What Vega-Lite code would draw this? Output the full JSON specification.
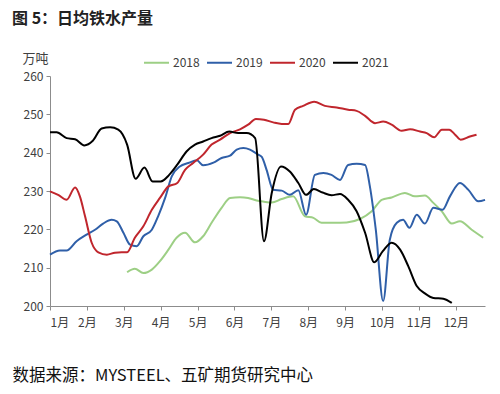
{
  "$schema": "https://vega.github.io/schema/vega-lite/v6.json",
  "width": 435,
  "height": 230,
  "autosize": {"type": "none"},
  "padding": {"left": 50, "top": 76, "right": 15, "bottom": 88},
  "background": "white",
  "title": {
    "text": "图 5：日均铁水产量",
    "anchor": "start",
    "frame": "group",
    "dx": -38,
    "dy": 9,
    "offset": 31,
    "font": "Noto Sans CJK SC",
    "fontSize": 16,
    "fontWeight": "bold",
    "color": "#222222"
  },
  "config": {
    "view": {"stroke": null},
    "font": "Noto Sans CJK SC"
  },
  "data": {
    "values": [
      {"年份": "2018", "月": 3.09, "万吨": 208.8},
      {"年份": "2018", "月": 3.30, "万吨": 209.7},
      {"年份": "2018", "月": 3.53, "万吨": 208.6},
      {"年份": "2018", "月": 3.76, "万吨": 209.5},
      {"年份": "2018", "月": 3.98, "万吨": 211.7},
      {"年份": "2018", "月": 4.21, "万吨": 214.7},
      {"年份": "2018", "月": 4.43, "万吨": 217.8},
      {"年份": "2018", "月": 4.66, "万吨": 219.1},
      {"年份": "2018", "月": 4.93, "万吨": 216.6},
      {"年份": "2018", "月": 5.15, "万吨": 218.2},
      {"年份": "2018", "月": 5.38, "万吨": 221.7},
      {"年份": "2018", "月": 5.65, "万吨": 225.6},
      {"年份": "2018", "月": 5.88, "万吨": 228.2},
      {"年份": "2018", "月": 6.15, "万吨": 228.4},
      {"年份": "2018", "月": 6.37, "万吨": 228.2},
      {"年份": "2018", "月": 6.60, "万吨": 227.5},
      {"年份": "2018", "月": 6.80, "万吨": 227.2},
      {"年份": "2018", "月": 7.01, "万吨": 227.0},
      {"年份": "2018", "月": 7.28, "万吨": 227.9},
      {"年份": "2018", "月": 7.59, "万吨": 228.6},
      {"年份": "2018", "月": 7.91, "万吨": 223.4},
      {"年份": "2018", "月": 8.14, "万吨": 223.0},
      {"年份": "2018", "月": 8.36, "万吨": 221.7},
      {"年份": "2018", "月": 8.68, "万吨": 221.7},
      {"年份": "2018", "月": 9.04, "万吨": 221.8},
      {"年份": "2018", "月": 9.40, "万吨": 222.7},
      {"年份": "2018", "月": 9.72, "万吨": 224.7},
      {"年份": "2018", "月": 9.99, "万吨": 227.7},
      {"年份": "2018", "月": 10.26, "万吨": 228.3},
      {"年份": "2018", "月": 10.62, "万吨": 229.5},
      {"年份": "2018", "月": 10.89, "万吨": 228.6},
      {"年份": "2018", "月": 11.16, "万吨": 228.8},
      {"年份": "2018", "月": 11.39, "万吨": 226.9},
      {"年份": "2018", "月": 11.62, "万吨": 224.7},
      {"年份": "2018", "月": 11.89, "万吨": 221.5},
      {"年份": "2018", "月": 12.11, "万吨": 222.1},
      {"年份": "2018", "月": 12.43, "万吨": 219.9},
      {"年份": "2018", "月": 12.74, "万吨": 217.8},

      {"年份": "2019", "月": 1.00, "万吨": 213.4},
      {"年份": "2019", "月": 1.27, "万吨": 214.5},
      {"年份": "2019", "月": 1.45, "万吨": 214.5},
      {"年份": "2019", "月": 1.72, "万吨": 216.9},
      {"年份": "2019", "月": 1.99, "万吨": 218.6},
      {"年份": "2019", "月": 2.22, "万吨": 219.9},
      {"年份": "2019", "月": 2.44, "万吨": 221.5},
      {"年份": "2019", "月": 2.67, "万吨": 222.5},
      {"年份": "2019", "月": 2.81, "万吨": 222.1},
      {"年份": "2019", "月": 2.99, "万吨": 219.1},
      {"年份": "2019", "月": 3.17, "万吨": 216.0},
      {"年份": "2019", "月": 3.35, "万吨": 215.6},
      {"年份": "2019", "月": 3.53, "万吨": 218.2},
      {"年份": "2019", "月": 3.76, "万吨": 219.9},
      {"年份": "2019", "月": 3.93, "万吨": 223.4},
      {"年份": "2019", "月": 4.12, "万吨": 228.2},
      {"年份": "2019", "月": 4.30, "万吨": 233.8},
      {"年份": "2019", "月": 4.52, "万吨": 236.4},
      {"年份": "2019", "月": 4.75, "万吨": 237.3},
      {"年份": "2019", "月": 4.98, "万吨": 238.0},
      {"年份": "2019", "月": 5.15, "万吨": 236.7},
      {"年份": "2019", "月": 5.43, "万吨": 237.4},
      {"年份": "2019", "月": 5.65, "万吨": 238.6},
      {"年份": "2019", "月": 5.88, "万吨": 239.2},
      {"年份": "2019", "月": 6.06, "万吨": 240.8},
      {"年份": "2019", "月": 6.24, "万吨": 241.2},
      {"年份": "2019", "月": 6.42, "万吨": 240.8},
      {"年份": "2019", "月": 6.64, "万吨": 239.5},
      {"年份": "2019", "月": 6.74, "万吨": 238.9},
      {"年份": "2019", "月": 6.87, "万吨": 235.5},
      {"年份": "2019", "月": 7.05, "万吨": 230.3},
      {"年份": "2019", "月": 7.28, "万吨": 230.1},
      {"年份": "2019", "月": 7.50, "万吨": 229.0},
      {"年份": "2019", "月": 7.73, "万吨": 230.2},
      {"年份": "2019", "月": 7.94, "万吨": 223.8},
      {"年份": "2019", "月": 8.18, "万吨": 234.2},
      {"年份": "2019", "月": 8.41, "万吨": 234.7},
      {"年份": "2019", "月": 8.63, "万吨": 234.2},
      {"年份": "2019", "月": 8.86, "万吨": 232.9},
      {"年份": "2019", "月": 9.08, "万吨": 236.8},
      {"年份": "2019", "月": 9.31, "万吨": 237.1},
      {"年份": "2019", "月": 9.54, "万吨": 236.8},
      {"年份": "2019", "月": 9.67, "万吨": 231.2},
      {"年份": "2019", "月": 9.83, "万吨": 219.9},
      {"年份": "2019", "月": 10.03, "万吨": 201.3},
      {"年份": "2019", "月": 10.21, "万吨": 217.3},
      {"年份": "2019", "月": 10.40, "万吨": 221.7},
      {"年份": "2019", "月": 10.57, "万吨": 222.5},
      {"年份": "2019", "月": 10.74, "万吨": 220.4},
      {"年份": "2019", "月": 10.94, "万吨": 223.8},
      {"年份": "2019", "月": 11.16, "万吨": 221.5},
      {"年份": "2019", "月": 11.39, "万吨": 225.6},
      {"年份": "2019", "月": 11.64, "万吨": 225.1},
      {"年份": "2019", "月": 11.84, "万吨": 228.6},
      {"年份": "2019", "月": 12.11, "万吨": 232.1},
      {"年份": "2019", "月": 12.34, "万吨": 230.3},
      {"年份": "2019", "月": 12.61, "万吨": 227.3},
      {"年份": "2019", "月": 12.79, "万吨": 227.7},

      {"年份": "2020", "月": 1.00, "万吨": 229.9},
      {"年份": "2020", "月": 1.22, "万吨": 229.0},
      {"年份": "2020", "月": 1.45, "万吨": 227.7},
      {"年份": "2020", "月": 1.68, "万吨": 230.9},
      {"年份": "2020", "月": 1.81, "万吨": 228.6},
      {"年份": "2020", "月": 1.95, "万吨": 223.4},
      {"年份": "2020", "月": 2.13, "万吨": 216.5},
      {"年份": "2020", "月": 2.31, "万吨": 214.0},
      {"年份": "2020", "月": 2.54, "万吨": 213.4},
      {"年份": "2020", "月": 2.76, "万吨": 213.9},
      {"年份": "2020", "月": 2.94, "万吨": 214.0},
      {"年份": "2020", "月": 3.09, "万吨": 214.0},
      {"年份": "2020", "月": 3.30, "万吨": 217.8},
      {"年份": "2020", "月": 3.53, "万吨": 220.8},
      {"年份": "2020", "月": 3.76, "万吨": 225.1},
      {"年份": "2020", "月": 3.98, "万吨": 228.2},
      {"年份": "2020", "月": 4.21, "万吨": 231.2},
      {"年份": "2020", "月": 4.45, "万吨": 232.1},
      {"年份": "2020", "月": 4.66, "万吨": 235.5},
      {"年份": "2020", "月": 4.88, "万吨": 237.3},
      {"年份": "2020", "月": 5.15, "万吨": 239.5},
      {"年份": "2020", "月": 5.38, "万吨": 242.1},
      {"年份": "2020", "月": 5.61, "万吨": 243.4},
      {"年份": "2020", "月": 5.88, "万吨": 245.1},
      {"年份": "2020", "月": 6.15, "万吨": 246.1},
      {"年份": "2020", "月": 6.37, "万吨": 247.3},
      {"年份": "2020", "月": 6.58, "万吨": 248.8},
      {"年份": "2020", "月": 6.80, "万吨": 248.6},
      {"年份": "2020", "月": 7.05, "万吨": 247.9},
      {"年份": "2020", "月": 7.28, "万吨": 247.5},
      {"年份": "2020", "月": 7.46, "万吨": 247.5},
      {"年份": "2020", "月": 7.64, "万吨": 251.2},
      {"年份": "2020", "月": 7.86, "万吨": 252.2},
      {"年份": "2020", "月": 8.16, "万吨": 253.3},
      {"年份": "2020", "月": 8.45, "万吨": 252.2},
      {"年份": "2020", "月": 8.77, "万吨": 251.8},
      {"年份": "2020", "月": 9.08, "万吨": 251.2},
      {"年份": "2020", "月": 9.31, "万吨": 250.9},
      {"年份": "2020", "月": 9.54, "万吨": 249.6},
      {"年份": "2020", "月": 9.81, "万吨": 247.7},
      {"年份": "2020", "月": 10.03, "万吨": 248.1},
      {"年份": "2020", "月": 10.26, "万吨": 247.3},
      {"年份": "2020", "月": 10.53, "万吨": 245.7},
      {"年份": "2020", "月": 10.76, "万吨": 246.1},
      {"年份": "2020", "月": 11.03, "万吨": 245.5},
      {"年份": "2020", "月": 11.21, "万吨": 245.1},
      {"年份": "2020", "月": 11.41, "万吨": 244.0},
      {"年份": "2020", "月": 11.62, "万吨": 246.0},
      {"年份": "2020", "月": 11.82, "万吨": 246.0},
      {"年份": "2020", "月": 11.98, "万吨": 244.7},
      {"年份": "2020", "月": 12.13, "万吨": 243.4},
      {"年份": "2020", "月": 12.38, "万吨": 244.2},
      {"年份": "2020", "月": 12.56, "万吨": 244.7},

      {"年份": "2021", "月": 1.00, "万吨": 245.3},
      {"年份": "2021", "月": 1.18, "万吨": 245.3},
      {"年份": "2021", "月": 1.45, "万吨": 243.8},
      {"年份": "2021", "月": 1.68, "万吨": 243.5},
      {"年份": "2021", "月": 1.93, "万吨": 241.9},
      {"年份": "2021", "月": 2.16, "万吨": 243.1},
      {"年份": "2021", "月": 2.40, "万吨": 246.3},
      {"年份": "2021", "月": 2.63, "万吨": 246.6},
      {"年份": "2021", "月": 2.85, "万吨": 246.0},
      {"年份": "2021", "月": 3.09, "万吨": 242.1},
      {"年份": "2021", "月": 3.32, "万吨": 233.2},
      {"年份": "2021", "月": 3.56, "万吨": 236.1},
      {"年份": "2021", "月": 3.78, "万吨": 232.5},
      {"年份": "2021", "月": 4.00, "万吨": 232.5},
      {"年份": "2021", "月": 4.23, "万吨": 234.2},
      {"年份": "2021", "月": 4.46, "万吨": 237.0},
      {"年份": "2021", "月": 4.70, "万吨": 240.3},
      {"年份": "2021", "月": 4.93, "万吨": 242.1},
      {"年份": "2021", "月": 5.15, "万吨": 242.9},
      {"年份": "2021", "月": 5.38, "万吨": 243.8},
      {"年份": "2021", "月": 5.61, "万吨": 244.4},
      {"年份": "2021", "月": 5.86, "万吨": 245.5},
      {"年份": "2021", "月": 6.10, "万吨": 245.1},
      {"年份": "2021", "月": 6.33, "万吨": 245.1},
      {"年份": "2021", "月": 6.56, "万吨": 243.8},
      {"年份": "2021", "月": 6.80, "万吨": 216.9},
      {"年份": "2021", "月": 7.01, "万吨": 229.5},
      {"年份": "2021", "月": 7.26, "万吨": 236.4},
      {"年份": "2021", "月": 7.50, "万吨": 235.1},
      {"年份": "2021", "月": 7.73, "万吨": 232.1},
      {"年份": "2021", "月": 7.94, "万吨": 229.0},
      {"年份": "2021", "月": 8.15, "万吨": 230.5},
      {"年份": "2021", "月": 8.39, "万吨": 229.6},
      {"年份": "2021", "月": 8.63, "万吨": 228.9},
      {"年份": "2021", "月": 8.86, "万吨": 229.2},
      {"年份": "2021", "月": 9.08, "万吨": 227.7},
      {"年份": "2021", "月": 9.31, "万吨": 224.7},
      {"年份": "2021", "月": 9.54, "万吨": 219.1},
      {"年份": "2021", "月": 9.79, "万吨": 211.4},
      {"年份": "2021", "月": 10.02, "万吨": 214.3},
      {"年份": "2021", "月": 10.26, "万吨": 216.5},
      {"年份": "2021", "月": 10.49, "万吨": 214.7},
      {"年份": "2021", "月": 10.71, "万吨": 210.4},
      {"年份": "2021", "月": 10.94, "万吨": 205.2},
      {"年份": "2021", "月": 11.16, "万吨": 203.3},
      {"年份": "2021", "月": 11.39, "万吨": 202.1},
      {"年份": "2021", "月": 11.66, "万吨": 201.9},
      {"年份": "2021", "月": 11.89, "万吨": 200.8}
    ]
  },
  "mark": {"type": "line", "strokeWidth": 2, "interpolate": "monotone"},
  "encoding": {
    "x": {
      "field": "月",
      "type": "quantitative",
      "scale": {"domain": [1, 12.79], "nice": false, "zero": false},
      "axis": {
        "values": [1, 2, 3, 4, 5, 6, 7, 8, 9, 10, 11, 12],
        "labelExpr": "datum.value + '月'",
        "grid": false,
        "domainColor": "#8c8c8c",
        "tickColor": "#8c8c8c",
        "tickSize": 4,
        "labelFontSize": 12,
        "labelColor": "#404040",
        "labelDx": -3,
        "labelPadding": 7,
        "title": "数据来源：MYSTEEL、五矿期货研究中心",
        "titleAnchor": "start",
        "titleAlign": "left",
        "titleBaseline": "middle",
        "titleX": -38,
        "titleY": 69,
        "titleFontSize": 16.5,
        "titleFontWeight": "normal",
        "titleColor": "#111111"
      }
    },
    "y": {
      "field": "万吨",
      "type": "quantitative",
      "scale": {"domain": [200, 260], "nice": false, "zero": false},
      "axis": {
        "values": [200, 210, 220, 230, 240, 250, 260],
        "grid": false,
        "domainColor": "#8c8c8c",
        "tickColor": "#8c8c8c",
        "tickSize": 4,
        "labelFontSize": 12,
        "labelColor": "#404040",
        "labelPadding": 3,
        "title": "万吨",
        "titleAngle": 0,
        "titleAlign": "left",
        "titleBaseline": "middle",
        "titleX": -28,
        "titleY": -18,
        "titleFontSize": 13,
        "titleFontWeight": "normal",
        "titleColor": "#404040"
      }
    },
    "color": {
      "field": "年份",
      "type": "nominal",
      "scale": {
        "domain": ["2018", "2019", "2020", "2021"],
        "range": ["#9dcf85", "#2f5fa8", "#c0262d", "#000000"]
      },
      "legend": {
        "title": null,
        "orient": "none",
        "legendX": 93,
        "legendY": -27,
        "direction": "horizontal",
        "columns": 4,
        "symbolType": "stroke",
        "symbolSize": 625,
        "symbolStrokeWidth": 2,
        "labelFontSize": 12,
        "labelColor": "#404040",
        "labelOffset": 3,
        "columnPadding": 3
      }
    }
  }
}
